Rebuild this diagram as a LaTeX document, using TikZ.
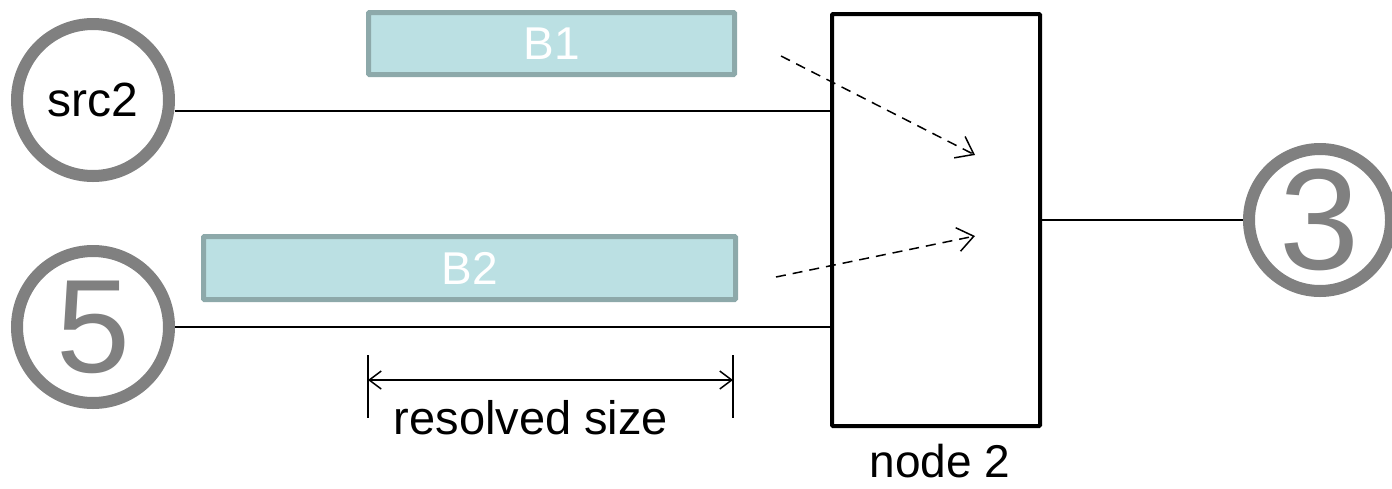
\documentclass[tikz,border=0pt]{standalone}
\usepackage{fontspec}
\setmainfont{Liberation Sans}
\usetikzlibrary{arrows.meta}
\definecolor{ringgray}{HTML}{808080}
\definecolor{buffill}{HTML}{BBE0E3}
\definecolor{bufedge}{HTML}{8DA9AA}
\tikzset{
  ring/.style={circle, draw=ringgray, line width=12pt, inner sep=0pt},
  bufbox/.style={draw=bufedge, fill=buffill, line width=5pt, text=white, inner sep=0pt,
    rounded corners=1pt, font=\fontsize{46}{46}\selectfont},
  blockbox/.style={draw, line width=4pt, rounded corners=1pt, inner sep=0pt},
  flow/.style={dashed, dash pattern=on 10pt off 7pt, line width=1.5pt,
    -{Straight Barb[length=16pt, width=24pt, line width=1.5pt]}},
  dim/.style={line width=1.5pt}
}
\begin{document}
\begin{tikzpicture}[x=1pt, y=-1pt]
  \useasboundingbox (0,0) rectangle (1392,488);

  % Sources and sink
  \node[ring, minimum size=152pt, font=\fontsize{48}{48}\selectfont] (src) at (93,100) {src2};
  \node[ring, minimum size=152pt, text=ringgray, font=\fontsize{133}{133}\selectfont] (five) at (93,327) {5};
  \node[ring, minimum size=142pt, text=ringgray, font=\fontsize{144}{144}\selectfont] (three) at (1320,220) {3};

  % Merging node
  \node[blockbox, minimum width=208pt, minimum height=412pt] (blk) at (936,220) {};
  \node[anchor=base, inner sep=0pt, font=\fontsize{46}{46}\selectfont] (blklabel) at (940,477) {node 2};

  % Buffers
  \node[bufbox, minimum width=366pt, minimum height=62pt] (b1) at (551.5,43.5) {B1};
  \node[bufbox, minimum width=532pt, minimum height=63pt] (b2) at (469.5,268) {B2};

  % Links
  \draw[line width=1.5pt] ([yshift=-11pt]src.east) -- ([yshift=-11pt]src.east -| blk.west);
  \draw[line width=1.5pt] (five.east) -- (five.east -| blk.west);
  \draw[line width=1.5pt] (blk.east) -- (three.west);

  % Buffer flow into node
  \coordinate (f1s) at (781,56);
  \coordinate (f1e) at (975,155);
  \coordinate (f2s) at (776,277);
  \coordinate (f2e) at (975,236);
  \draw[flow] (f1s) -- (f1e);
  \draw[flow] (f2s) -- (f2e);

  % Resolved size marker
  \coordinate (dlt) at (368,355);
  \coordinate (dlb) at (368,418);
  \coordinate (drt) at (733,355);
  \coordinate (drb) at (733,418);
  \draw[dim] (dlt) -- (dlb);
  \draw[dim] (drt) -- (drb);
  \coordinate (dl) at (368,380);
  \coordinate (dr) at (733,380);
  \draw[dim, {Straight Barb[length=12pt, width=18pt, line width=1.5pt]}-{Straight Barb[length=12pt, width=18pt, line width=1.5pt]}] (dl) -- (dr);
  \node[anchor=base, font=\fontsize{47}{47}\selectfont] (dimlabel) at (531,434) {resolved size};
\end{tikzpicture}
\end{document}
